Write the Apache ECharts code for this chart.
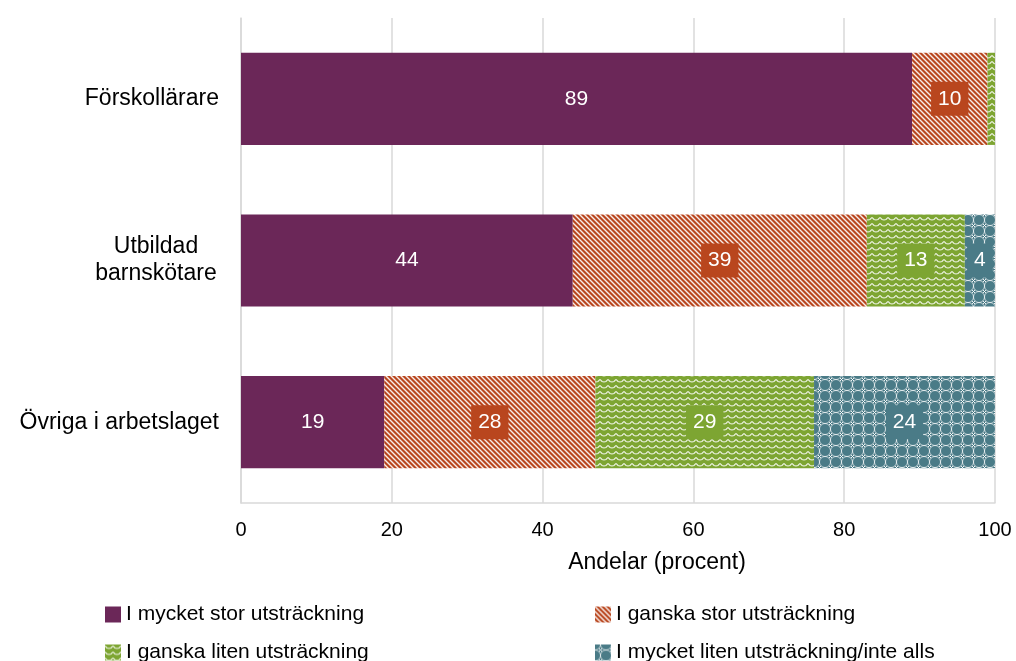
<!DOCTYPE html>
<html><head><meta charset="utf-8">
<script src="https://cdn.jsdelivr.net/npm/echarts@6/dist/echarts.min.js"></script>
<style>html,body{margin:0;padding:0;background:#fff}#c{width:1016px;height:661px}</style>
</head><body><div id="c"></div>
<script>
var categories = ['Förskollärare', 'Utbildad\nbarnskötare', 'Övriga i arbetslaget'];
var seriesNames = ['I mycket stor utsträckning', 'I ganska stor utsträckning', 'I ganska liten utsträckning', 'I mycket liten utsträckning/inte alls'];
var valsMycketStor = [89, 44, 19];
var valsGanskaStor = [10, 39, 28];
var valsGanskaLiten = [1, 13, 29];
var valsMycketLiten = [0, 4, 24];
var xTicks = [0, 20, 40, 60, 80, 100];

var colors = ['#6b2758', '#b9461e', '#7da532', '#4a7b87'];
var FONT = 'Liberation Sans';

function mk(w, h, bg, draw) {
  var c = document.createElement('canvas'); c.width = w; c.height = h;
  var g = c.getContext('2d'); g.fillStyle = bg; g.fillRect(0, 0, w, h);
  draw(g); return c;
}
var patOrange = mk(5, 5, colors[1], function (g) {
  g.strokeStyle = 'rgba(255,255,255,0.9)'; g.lineWidth = 1.4;
  g.beginPath(); g.moveTo(-1, -1); g.lineTo(6, 6); g.stroke();
  g.beginPath(); g.moveTo(-1, 4); g.lineTo(1, 6); g.stroke();
  g.beginPath(); g.moveTo(4, -1); g.lineTo(6, 1); g.stroke();
});
var patGreen = mk(8, 6, colors[2], function (g) {
  g.strokeStyle = 'rgba(255,255,255,0.85)'; g.lineWidth = 1.2;
  g.beginPath(); g.moveTo(0, 1.5); g.lineTo(2, 3.5); g.lineTo(4, 4); g.lineTo(6, 3.5); g.lineTo(8, 1.5); g.stroke();
});
var patTeal = mk(11, 11, colors[3], function (g) {
  g.strokeStyle = 'rgba(255,255,255,0.65)'; g.lineWidth = 1;
  var pts = [[0,0],[11,0],[0,11],[11,11]];
  pts.forEach(function (p) { g.beginPath(); g.arc(p[0], p[1], 5.5, 0, Math.PI * 2); g.stroke(); });
  g.strokeStyle = 'rgba(255,255,255,0.9)';
  g.beginPath(); g.moveTo(4, 4); g.lineTo(7, 7); g.moveTo(7, 4); g.lineTo(4, 7); g.stroke();
});
var fills = [colors[0], {image: patOrange, repeat: 'repeat'}, {image: patGreen, repeat: 'repeat'}, {image: patTeal, repeat: 'repeat'}];
var dataSets = [valsMycketStor, valsGanskaStor, valsGanskaLiten, valsMycketLiten];

var series = dataSets.map(function (d, i) {
  return {
    name: seriesNames[i], type: 'bar', stack: 'total', barWidth: '57%',
    data: d.map(function (v) { return {value: v, label: {show: v >= 3}}; }),
    itemStyle: {color: fills[i]},
    label: {
      position: 'inside', color: '#fff', fontSize: 21, fontFamily: FONT,
      backgroundColor: i === 0 ? 'transparent' : colors[i], padding: [7, 7, 6, 7]
    }
  };
});

var legendCommon = {orient: 'vertical', itemWidth: 16, itemHeight: 16, itemGap: 6, icon: 'rect', selectedMode: false,
  textStyle: {fontSize: 21, color: '#000', fontFamily: FONT}};
function lg(name, left, top) { return Object.assign({data: [name], left: left, top: top}, legendCommon); }

var chart = echarts.init(document.getElementById('c'));
chart.setOption({
  animation: false,
  textStyle: {fontFamily: FONT},
  grid: {left: 241, right: 21, top: 18, bottom: 158, containLabel: false},
  xAxis: {
    type: 'value', min: 0, max: 100, interval: 20,
    name: 'Andelar (procent)', nameLocation: 'middle', nameGap: 48,
    nameTextStyle: {fontSize: 23, color: '#000', fontFamily: FONT, padding: [0, 0, 0, 78]},
    axisLabel: {fontSize: 20, color: '#000', margin: 17, formatter: function (v) { return xTicks.indexOf(v) >= 0 ? String(v) : ''; }},
    axisLine: {show: true, lineStyle: {color: '#d9d9d9', width: 1.5}},
    axisTick: {show: false},
    splitLine: {lineStyle: {color: '#d9d9d9', width: 1.5}}
  },
  yAxis: {
    type: 'category', data: categories, inverse: true,
    axisLine: {show: true, lineStyle: {color: '#d9d9d9', width: 1.5}},
    axisTick: {show: false},
    axisLabel: {
      fontSize: 23, color: '#000', margin: 22,
      formatter: function (v) {
        if (v.indexOf('\n') >= 0) return v.split('\n').map(function (s) { return '{c|' + s + '}'; }).join('\n');
        return v;
      },
      rich: {c: {fontSize: 23, color: '#000', fontFamily: FONT, width: 126, align: 'center', lineHeight: 27}}
    }
  },
  legend: [
    lg(seriesNames[0], 100, 599),
    lg(seriesNames[2], 100, 637),
    lg(seriesNames[1], 590, 599),
    lg(seriesNames[3], 590, 637)
  ],
  series: series
});
</script></body></html>
